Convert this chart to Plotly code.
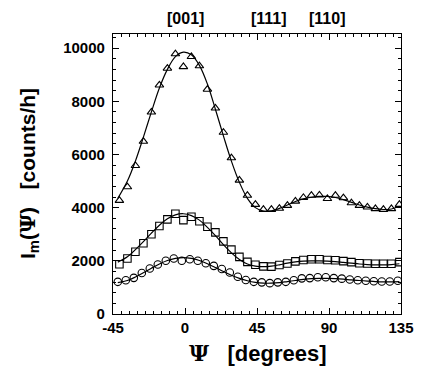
import plotly.graph_objects as go

# ---- data ----
x_tri = [-41 + 5 * k for k in range(36)]
tri = [4270, 4780, 5580, 6490, 7590, 8610, 9240, 9780, 9300, 9680, 9330, 8450,
       7740, 6830, 5870, 5030, 4460, 4120, 3930, 3930, 3970, 4080, 4240, 4380,
       4460, 4470, 4340, 4460, 4370, 4180, 4080, 4020, 3960, 3930, 3960, 4120]

x_sq = [-41 + 5 * k for k in range(36)]
sq = [1870, 2090, 2340, 2660, 3000, 3310, 3560, 3770, 3530, 3660, 3490, 3280,
      3070, 2730, 2420, 2150, 1960, 1850, 1790, 1780, 1840, 1900, 1980, 2030,
      2060, 2060, 2030, 2020, 1990, 1950, 1910, 1900, 1890, 1890, 1890, 1950]

x_ci = [-42 + 5 * k for k in range(36)]
ci = [1210, 1270, 1360, 1540, 1710, 1860, 2000, 2090, 2000, 2060, 2000, 1910,
      1810, 1690, 1560, 1400, 1280, 1210, 1190, 1160, 1190, 1210, 1270, 1340,
      1350, 1380, 1380, 1350, 1330, 1300, 1270, 1250, 1230, 1220, 1220, 1250]

# fitted curves
x_fit = [-42, -36, -31, -26, -21, -16, -11, -6, -1, 4, 9, 14, 19, 24, 29, 34, 39,
         44, 49, 54, 59, 64, 69, 74, 79, 84, 89, 94, 99, 104, 109, 114, 119,
         124, 129, 134]
fit_tri = [4350, 5000, 5750, 6650, 7600, 8500, 9200, 9680, 9850, 9750, 9350,
           8650, 7700, 6700, 5750, 4950, 4350, 4000, 3870, 3880, 3970, 4100,
           4230, 4330, 4390, 4420, 4420, 4380, 4300, 4200, 4100, 4020, 3960,
           3930, 3950, 4050]
fit_sq = [1950, 2150, 2420, 2720, 3040, 3340, 3580, 3730, 3770, 3700, 3530,
          3260, 2950, 2610, 2300, 2050, 1880, 1800, 1780, 1800, 1850, 1910,
          1960, 1990, 2000, 2000, 1990, 1970, 1940, 1910, 1880, 1860, 1850,
          1850, 1860, 1890]
fit_ci = [1180, 1260, 1390, 1550, 1720, 1880, 2010, 2090, 2120, 2090, 2010,
          1890, 1750, 1600, 1460, 1340, 1250, 1190, 1160, 1160, 1180, 1220,
          1260, 1300, 1330, 1340, 1340, 1330, 1310, 1280, 1260, 1240, 1220,
          1210, 1210, 1220]

x_ticks = [-45, 0, 45, 90, 135]
y_ticks = [0, 2000, 4000, 6000, 8000, 10000]
dir_labels = ["[001]", "[111]", "[110]"]
dir_pos = [0, 52.5, 89]

FONT = "Liberation Sans"

fig = go.Figure()
for xf, yf in [(x_fit, fit_tri), (x_fit, fit_sq), (x_fit, fit_ci)]:
    fig.add_trace(go.Scatter(x=xf, y=yf, mode="lines", line=dict(color="black", width=1.2, shape="spline", smoothing=1.0), showlegend=False, hoverinfo="skip"))

for xs, ys, sym in [(x_tri, tri, "triangle-up-open"), (x_sq, sq, "square-open"), (x_ci, ci, "circle-open")]:
    fig.add_trace(go.Scatter(x=xs, y=ys, mode="markers",
                             marker=dict(symbol=sym, size=7.5, color="black", line=dict(width=1.1, color="black")),
                             showlegend=False))

axis_common = dict(showline=True, linecolor="black", linewidth=1.2, mirror="allticks",
                   ticks="inside", ticklen=6, tickwidth=1.1, tickcolor="black",
                   showgrid=False, zeroline=False,
                   tickfont=dict(family=FONT, size=15, color="black", weight="bold"))

fig.update_xaxes(range=[-45, 135], tickvals=x_ticks, ticktext=[str(v) for v in x_ticks],
                 minor=dict(dtick=5, tick0=0, ticks="inside", ticklen=3, tickcolor="black", tickwidth=1),
                 **axis_common)
fig.update_yaxes(range=[0, 10530], tickvals=y_ticks, ticktext=[str(v) for v in y_ticks],
                 minor=dict(dtick=400, tick0=0, ticks="inside", ticklen=3, tickcolor="black", tickwidth=1),
                 ticklabelstandoff=4,
                 **axis_common)

ann = []
for lab, p in zip(dir_labels, dir_pos):
    ann.append(dict(x=p, y=1, xref="x", yref="paper", yshift=5, yanchor="bottom", showarrow=False,
                    text="<b>" + lab + "</b>", font=dict(family=FONT, size=16, color="black")))
ann.append(dict(x=0.5, y=0, xref="paper", yref="paper", yshift=-39, yanchor="middle", showarrow=False,
                text="<span style='font-family:DejaVu Serif;font-weight:bold'>Ψ</span>   <b>[degrees]</b>",
                font=dict(family=FONT, size=22, color="black")))
ann.append(dict(x=0, y=0.5, xref="paper", yref="paper", xshift=-85, xanchor="center", showarrow=False,
                textangle=-90,
                text="<b>I<sub>m</sub>(</b><span style='font-family:DejaVu Serif;font-weight:bold'>Ψ</span><b>)   [counts/h]</b>",
                font=dict(family=FONT, size=21, color="black")))

fig.update_layout(width=426, height=373, margin=dict(l=113, r=16, t=34, b=59),
                  paper_bgcolor="white", plot_bgcolor="white", annotations=ann)

fig.write_html("out.html")
